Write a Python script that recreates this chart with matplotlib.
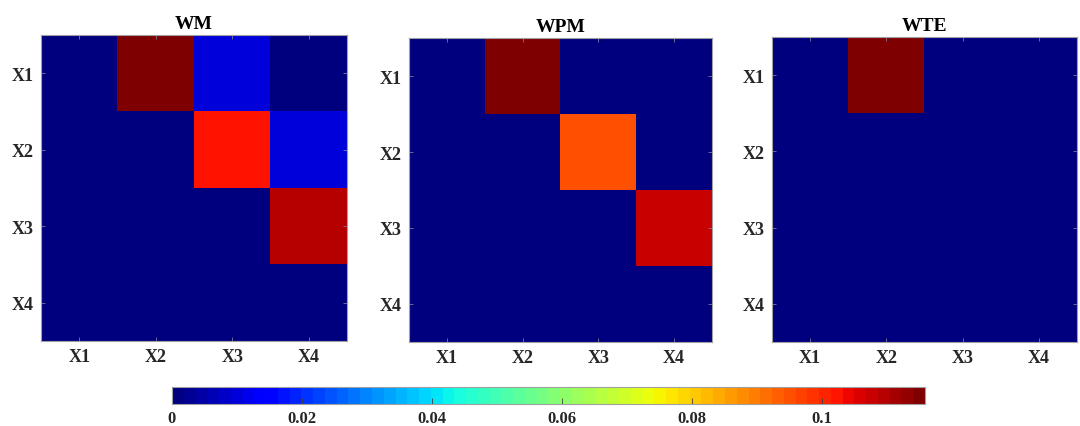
import numpy as np
import matplotlib
matplotlib.use('Agg')
import matplotlib.pyplot as plt

plt.rcParams['font.family'] = ['Liberation Serif', 'DejaVu Serif']
plt.rcParams['font.weight'] = 'bold'

labels = ['X1', 'X2', 'X3', 'X4']
titles = ['WM', 'WPM', 'WTE']

# connectivity matrices, rows = source (X1..X4), cols = target
wm = np.array([
    [0.0, 0.116, 0.010, 0.0],
    [0.0, 0.0, 0.103, 0.010],
    [0.0, 0.0, 0.0, 0.109],
    [0.0, 0.0, 0.0, 0.0],
])
wpm = np.array([
    [0.0, 0.116, 0.0, 0.0],
    [0.0, 0.0, 0.095, 0.0],
    [0.0, 0.0, 0.0, 0.107],
    [0.0, 0.0, 0.0, 0.0],
])
wte = np.array([
    [0.0, 0.116, 0.0, 0.0],
    [0.0, 0.0, 0.0, 0.0],
    [0.0, 0.0, 0.0, 0.0],
    [0.0, 0.0, 0.0, 0.0],
])
mats = [wm, wpm, wte]

vmin, vmax = 0.0, 0.1158
cbar_ticks = [0, 0.02, 0.04, 0.06, 0.08, 0.1]
cbar_labels = ['0', '0.02', '0.04', '0.06', '0.08', '0.1']

W, H = 1080, 427
fig = plt.figure(figsize=(W / 100, H / 100), dpi=100)
cmap = plt.get_cmap('jet', 64)

# axes boxes in pixels: left, top, right, bottom
boxes = [(41, 36, 347, 342), (409, 39, 712, 343), (772, 38, 1077, 343)]

edge = '#a0a0a0'
for (l, t, r, b), m, ttl in zip(boxes, mats, titles):
    ax = fig.add_axes([l / W, 1 - b / H, (r - l) / W, (b - t) / H])
    im = ax.imshow(m, cmap=cmap, vmin=vmin, vmax=vmax, aspect='auto',
                   interpolation='nearest')
    ax.set_xticks(range(4))
    ax.set_yticks(range(4))
    ax.set_xticklabels(labels, fontsize=13, fontweight='bold')
    ax.set_yticklabels(labels, fontsize=13, fontweight='bold')
    ax.tick_params(direction='in', length=3, width=0.6, color='#7a7a9a',
                   top=True, right=True, pad=5, labelcolor='#262626')
    for s in ax.spines.values():
        s.set_color(edge)
        s.set_linewidth(0.8)
    ax.set_title(ttl, fontsize=14, fontweight='bold', pad=5)

cax = fig.add_axes([172 / W, 1 - 405 / H, (925 - 172) / W, 17 / H])
cb = fig.colorbar(im, cax=cax, orientation='horizontal')
cb.set_ticks(cbar_ticks)
cb.set_ticklabels(cbar_labels)
cax.tick_params(direction='in', length=4, width=0.6, color='#404040',
                labelsize=12, pad=4, labelcolor='#262626')
for lab in cax.get_xticklabels():
    lab.set_fontweight('bold')
cb.outline.set_edgecolor(edge)
cb.outline.set_linewidth(0.8)

fig.savefig('out.png', dpi=100, facecolor='white')
